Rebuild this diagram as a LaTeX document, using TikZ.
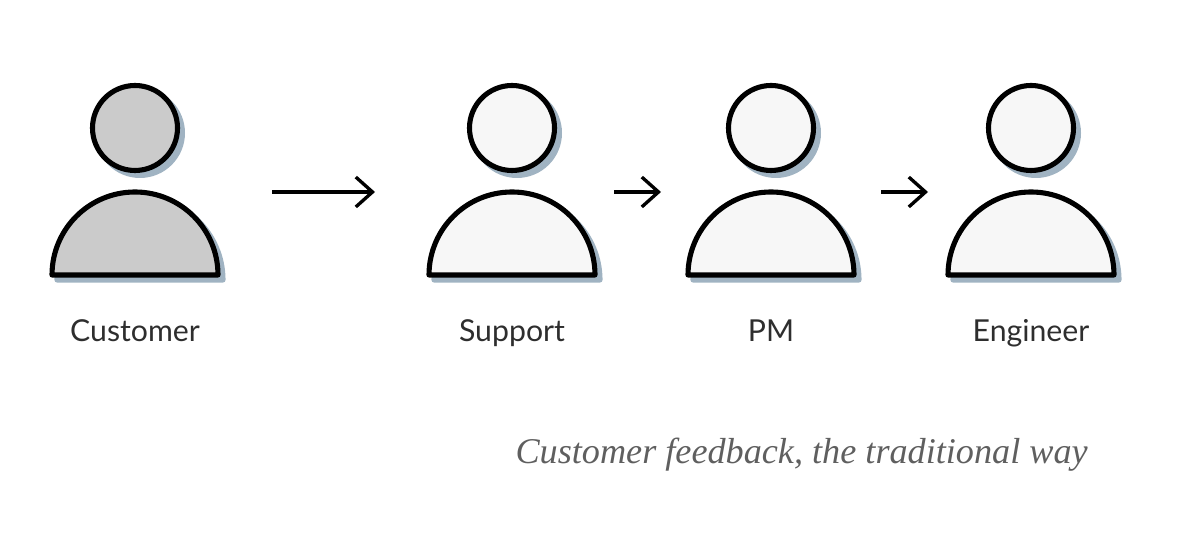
\documentclass[tikz,border=0pt]{standalone}
\usepackage{fontspec}
\setmainfont{Lato}
\newfontfamily\captionfont{Liberation Serif}
\definecolor{pnInk}{HTML}{000000}
\definecolor{pnText}{HTML}{2E2E2E}
\definecolor{pnNote}{HTML}{5F5F5F}
\definecolor{pnShade}{HTML}{A0B3C2}
\definecolor{pnGrey}{HTML}{CBCBCB}
\definecolor{pnPale}{HTML}{F7F7F7}
\usetikzlibrary{arrows.meta,positioning}

\begin{document}
\begin{tikzpicture}[
  head/.style={circle, draw=pnInk, line width=2.9pt, minimum size=1.7cm, inner sep=0pt},
  headshade/.style={circle, fill=pnShade, minimum size=1.8cm, inner sep=0pt},
  body/.style={draw=pnInk, line width=2.9pt, line join=round},
  bodyshade/.style={fill=pnShade, draw=pnShade, line width=2.9pt, line join=round},
  tag/.style={font=\fontsize{17.2}{20}\selectfont, text=pnText, anchor=base},
  arr/.style={-{Straight Barb[length=9.5pt, width=17pt]}, line width=1.9pt, color=pnInk}
]
  \useasboundingbox (0,0) rectangle (23.96,10.92);

  % People
  \foreach \id/\px/\word/\tone in {customer/2.70/Customer/pnGrey, support/10.24/Support/pnPale,
      pm/15.42/PM/pnPale, engineer/20.62/Engineer/pnPale} {
    \node[headshade] (\id shade) at (\px+0.10,8.26) {};
    \node[head, fill=\tone] (\id head) at (\px,8.36) {};
    \draw[bodyshade] (\px-1.56,5.32) arc (180:0:1.66) -- cycle;
    \draw[body, fill=\tone] (\px-1.66,5.42) arc (180:0:1.66) -- cycle;
    \node[tag] (\id) at (\px,4.09) {\word};
  }

  % Arrows
  \coordinate (a1) at (5.44,7.08);
  \coordinate (b1) at (7.50,7.08);
  \coordinate (a2) at (12.28,7.08);
  \coordinate (b2) at (13.22,7.08);
  \coordinate (a3) at (17.62,7.08);
  \coordinate (b3) at (18.56,7.08);
  \draw[arr] (a1) -- (b1);
  \draw[arr] (a2) -- (b2);
  \draw[arr] (a3) -- (b3);

  % Caption
  \node[font=\captionfont\itshape\fontsize{20.6}{24}\selectfont, text=pnNote, anchor=base east, inner sep=0pt] (note) at (21.76,1.65)
    {Customer feedback, the traditional way};
\end{tikzpicture}
\end{document}
